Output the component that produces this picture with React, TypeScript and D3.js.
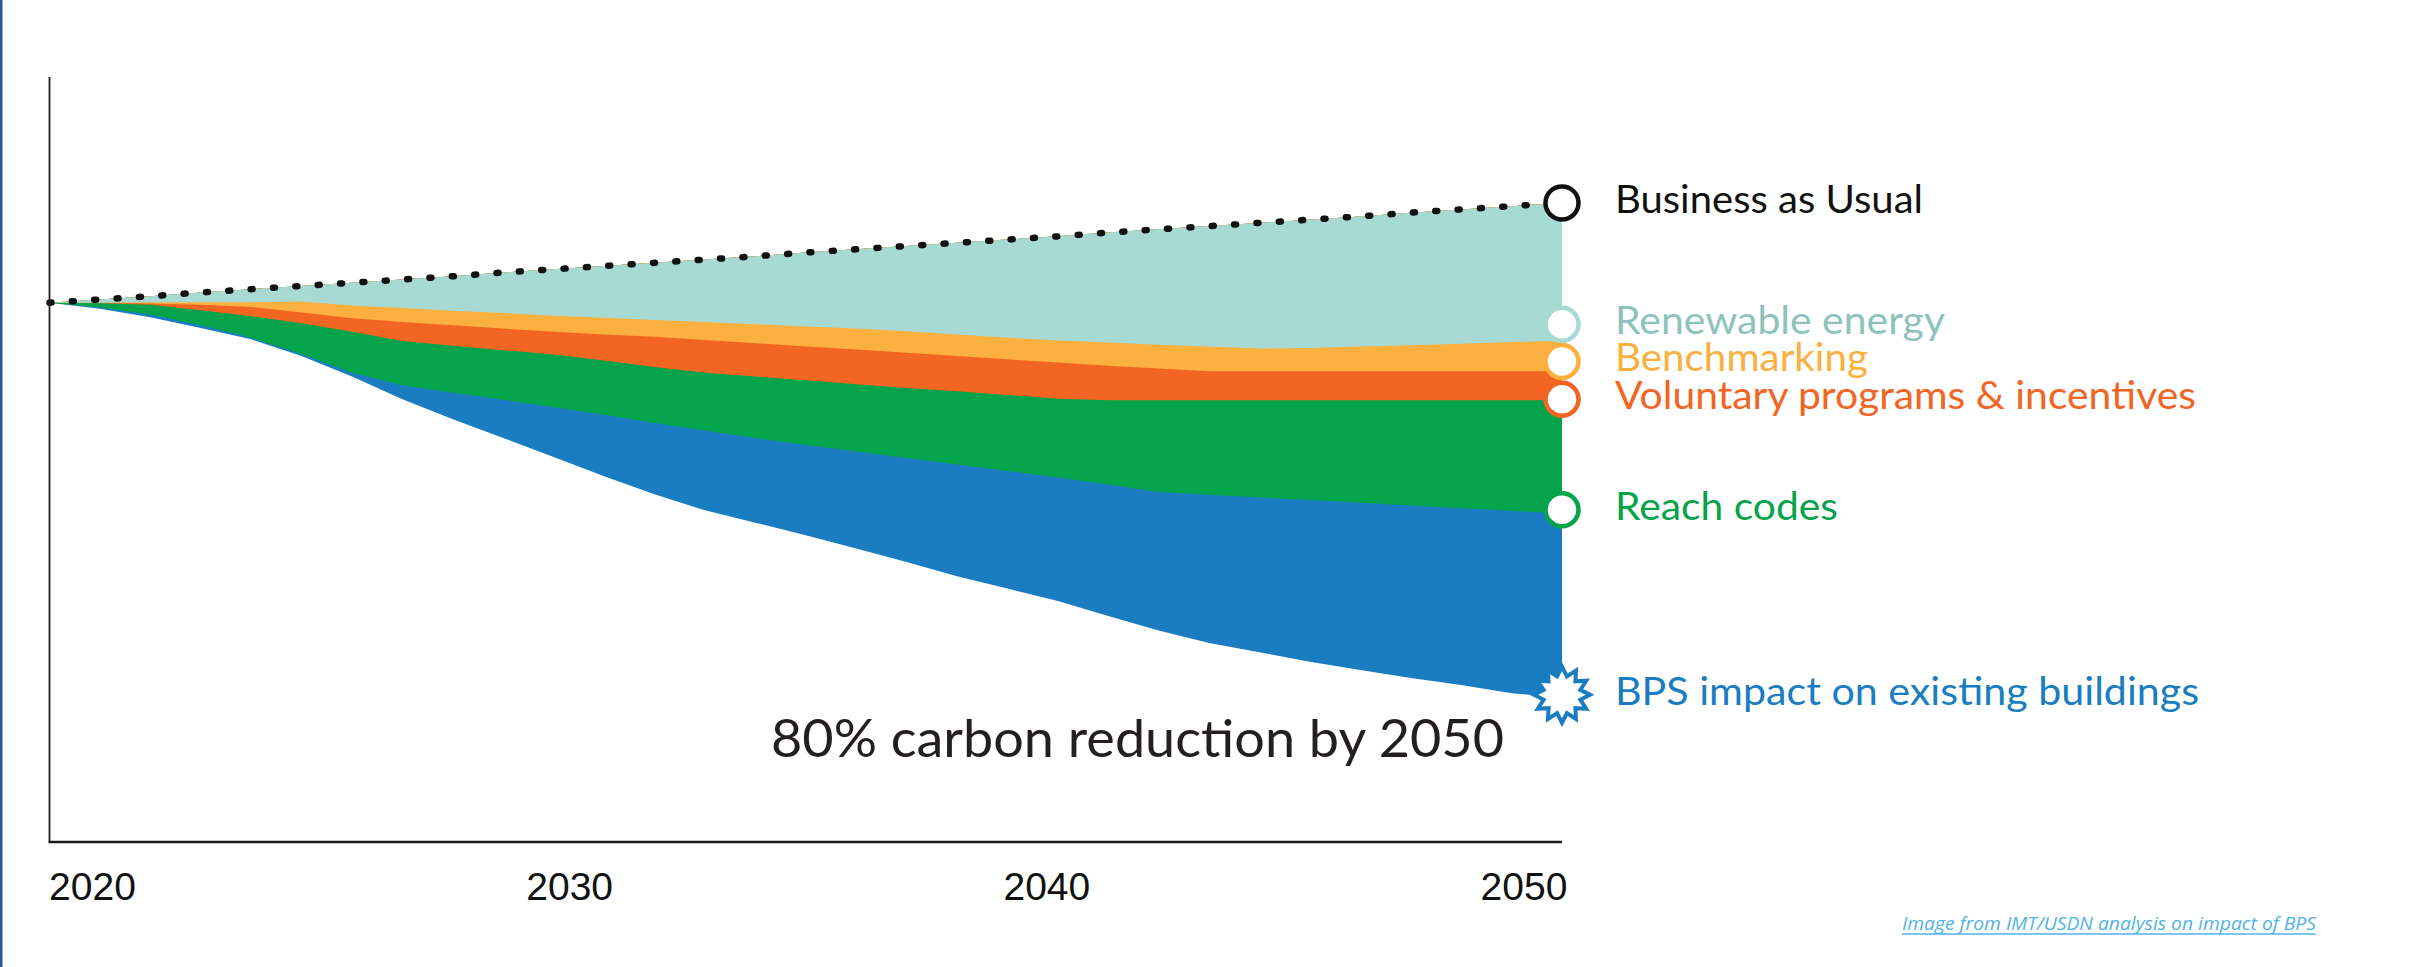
import React, { useEffect } from 'react';
import * as d3 from 'd3';

// emissions index, 2020 = 100
const YEARS = [2020, 2021, 2022, 2023, 2024, 2025, 2026, 2027, 2028, 2029, 2030,
  2031, 2032, 2033, 2034, 2035, 2036, 2037, 2038, 2039, 2040,
  2041, 2042, 2043, 2044, 2045, 2046, 2047, 2048, 2049, 2050];

const BAU = [100, 100.6, 101.2, 101.9, 102.5, 103.1, 103.7, 104.3, 104.9, 105.6, 106.2,
  106.8, 107.4, 108.0, 108.6, 109.3, 109.9, 110.5, 111.1, 111.7, 112.3,
  113.0, 113.6, 114.2, 114.8, 115.4, 116.0, 116.7, 117.3, 117.9, 118.5];

const RENEWABLE = [100, 100, 100.1, 100.1, 100.1, 100.2, 99.5, 99.0, 98.5, 98.1, 97.6,
  97.2, 96.8, 96.4, 96.0, 95.6, 95.2, 94.7, 94.1, 93.5, 93.0,
  92.6, 92.2, 91.9, 91.5, 91.6, 91.9, 92.1, 92.4, 92.7, 92.9];

const BENCHMARKING = [100, 100, 99.85, 99.6, 99.2, 98.2, 97.1, 96.4, 95.8, 95.2, 94.6,
  94.1, 93.7, 93.1, 92.5, 91.9, 91.3, 90.7, 90.1, 89.5, 88.9,
  88.3, 87.8, 87.3, 87.3, 87.3, 87.3, 87.3, 87.3, 87.3, 87.3];

const VOLUNTARY = [100, 99.9, 99.6, 98.6, 97.5, 96.2, 94.6, 92.9, 92.0, 91.2, 90.4,
  89.3, 88.1, 87.0, 86.3, 85.6, 84.9, 84.2, 83.6, 82.9, 82.2,
  81.9, 81.9, 81.9, 81.9, 81.9, 81.9, 81.9, 81.9, 81.9, 81.9];

const REACH = [100, 99.1, 97.8, 95.8, 93.5, 90.5, 87.0, 84.7, 83.3, 82.0, 80.6,
  79.2, 77.7, 76.3, 74.9, 73.6, 72.4, 71.2, 70.0, 68.8, 67.6,
  66.3, 64.9, 64.4, 63.9, 63.4, 62.9, 62.4, 61.9, 61.4, 60.9];

const BPS = [100, 98.9, 97.3, 95.3, 93.2, 90.1, 86.3, 82.1, 78.4, 74.9, 71.4,
  67.8, 64.5, 61.5, 59.2, 56.9, 54.4, 51.9, 49.3, 47.0, 44.7,
  41.9, 39.2, 36.9, 35.2, 33.4, 31.9, 30.4, 29.1, 27.6, 26.7];

const TICK_LABELS = ['2020', '2030', '2040', '2050'];

const LABELS = ['Business as Usual', 'Renewable energy', 'Benchmarking',
  'Voluntary programs & incentives', 'Reach codes', 'BPS impact on existing buildings'];
// where the end markers sit (same units as the series)
const LABEL_VALUES = [118.5, 96.0, 89.1, 82.1, 61.6, 27.3];

const COLORS = ['#111111', '#a6dad2', '#fbb040', '#f26522', '#05a34a', '#1a7dc2'];
const TEXT_COLORS = ['#111111', '#8ec3bc', '#fbb040', '#f26522', '#05a34a', '#1a7dc2'];
const LABEL_WIDTHS = [308, 330, 253, 581, 223, 584];

const W = 2433;
const H = 967;
const X0 = 49.5;
const X1 = 1562;
const BASE_Y = 842;
const AXIS_TOP = 77;

const App: React.FC = () => {
  useEffect(() => {
    document.body.style.margin = '0';
    document.body.style.overflow = 'hidden';
  }, []);

  const x = d3.scaleLinear().domain([2020, 2050]).range([X0, X1]);
  const y = d3.scaleLinear().domain([0, 100]).range([BASE_Y, 302.7]);
  const tickX = d3.scalePoint<string>().domain(TICK_LABELS).range([X0 + 43, X1 - 38]);

  // bottom-up, each layer filled from its own lower edge to the BAU line
  const layers = [
    { values: BPS, color: COLORS[5] },
    { values: REACH, color: COLORS[4] },
    { values: VOLUNTARY, color: COLORS[3] },
    { values: BENCHMARKING, color: COLORS[2] },
    { values: RENEWABLE, color: COLORS[1] },
  ];

  const area = (vals: number[]) =>
    d3.area<number>()
      .x((_, i) => x(YEARS[i]))
      .y0((d) => y(d))
      .y1((_, i) => y(BAU[i]))(vals) || '';

  const bauLine = d3.line<number>()
    .x((_, i) => x(YEARS[i]))
    .y((d) => y(d))(BAU) || '';

  const starPts: [number, number][] = d3.range(24).map((i) => [i * Math.PI / 12, i % 2 === 0 ? 28 : 19]);
  const star = d3.lineRadial().curve(d3.curveLinearClosed)(starPts) || '';

  const labelX = x(2050) + 53;

  return (
    <svg width={W} height={H} style={{ position: 'absolute', left: 0, top: 0, background: '#fff' }}>
      <rect x={0} y={0} width={W} height={H} fill="#fff" />
      <rect x={0} y={0} width={2.5} height={H} fill="#2b5797" />

      {layers.map((l, i) => (
        <path key={i} d={area(l.values)} fill={l.color} />
      ))}

      <path d={bauLine} fill="none" stroke="#111" strokeWidth={6.5}
        strokeDasharray="2 20.4" strokeLinecap="round" />

      {/* axes */}
      <line x1={X0} x2={X0} y1={AXIS_TOP} y2={BASE_Y} stroke="#222" strokeWidth={1.8} />
      <line x1={X0 - 1} x2={X1} y1={BASE_Y} y2={BASE_Y} stroke="#1a1a1a" strokeWidth={2.6} />
      {TICK_LABELS.map((t) => (
        <text key={t} x={tickX(t)} y={900} textAnchor="middle"
          fontFamily="'Liberation Sans', Arial, sans-serif" fontSize={39} fill="#111">{t}</text>
      ))}

      {/* end markers */}
      {LABEL_VALUES.map((v, i) => (
        i === 5
          ? <path key={i} d={star} transform={`translate(${x(2050)},${y(v)})`}
              fill="#fff" stroke={COLORS[i]} strokeWidth={4} strokeLinejoin="miter" />
          : <circle key={i} cx={x(2050)} cy={y(v)} r={16.5} fill="#fff"
              stroke={COLORS[i]} strokeWidth={4.5} />
      ))}

      {LABELS.map((t, i) => (
        <text key={t} x={labelX} y={y(LABEL_VALUES[i]) + 10}
          fontFamily="Lato, 'Noto Sans', sans-serif" fontSize={38} fill={TEXT_COLORS[i]}
          textLength={LABEL_WIDTHS[i]} lengthAdjust="spacingAndGlyphs">{t}</text>
      ))}

      <text x={771} y={757} fontFamily="Lato, 'Noto Sans', sans-serif" fontSize={53} fill="#231f20"
        textLength={733} lengthAdjust="spacingAndGlyphs">80% carbon reduction by 2050</text>

      <text x={1902} y={930} fontFamily="'Open Sans', sans-serif" fontStyle="italic" fontSize={18}
        fill="#4fb3e8" textLength={414} lengthAdjust="spacingAndGlyphs">
        Image from IMT/USDN analysis on impact of BPS
      </text>
      <line x1={1902} x2={2316} y1={934} y2={934} stroke="#4fb3e8" strokeWidth={1.3} />
    </svg>
  );
};

export default App;
